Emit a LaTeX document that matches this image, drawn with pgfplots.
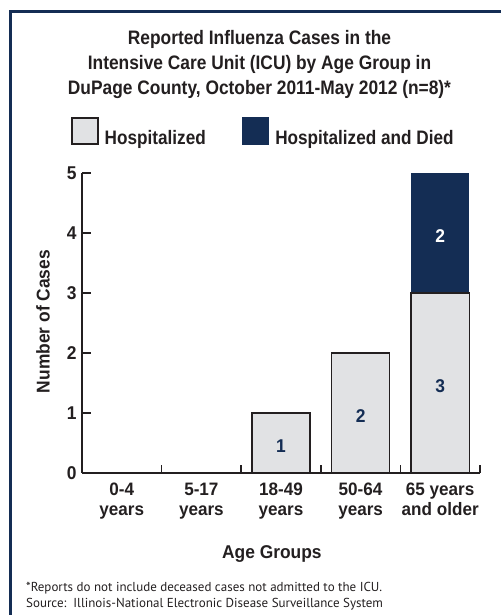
\documentclass[border=0pt]{standalone}
\usepackage{fontspec}
\usepackage{graphicx}
\usepackage{pgfplots}
\pgfplotsset{compat=1.18}
\newfontfamily\plain{Liberation Sans}
\newcommand\bsf{\plain\bfseries}
\newfontfamily\foot{PT Sans}
\newcommand\xt[2]{\scalebox{0.95}[1]{\begin{tabular}{@{}c@{}}#1\\#2\end{tabular}}}
\newcommand\cn[1]{\scalebox{0.94}[1]{#1}}
\newcommand\lgd[1]{\scalebox{0.88}[1]{#1}}
\definecolor{navy}{RGB}{20,45,84}
\definecolor{lightbar}{RGB}{225,226,228}
\definecolor{ink}{RGB}{35,31,32}
\begin{document}
\begin{tikzpicture}
\path[use as bounding box] (0,0) rectangle (501pt,615pt);
\draw[navy, line width=3.5pt] (10.3pt,0pt) -- (10.3pt,603.7pt) -- (501pt,603.7pt);
\node[anchor=north, inner sep=0pt, text=ink] at (259.5pt,588pt)
  {\scalebox{0.89}[1]{\bsf\fontsize{19.5}{25}\selectfont\begin{tabular}{@{}c@{}}Reported Influenza Cases in the\\Intensive Care Unit (ICU) by Age Group in\\DuPage County, October 2011-May 2012 (n=8)*\end{tabular}}};
\begin{axis}[
  at={(82pt,142pt)}, anchor=south west,
  scale only axis, width=398pt, height=300pt,
  xmin=-0.5, xmax=4.5, ymin=0, ymax=5,
  clip=false,
  ybar stacked, bar width=0.73,
  axis lines*=left,
  axis line style={ink, line width=1.5pt},
  tick style={ink, line width=1.5pt},
  major tick length=8.5pt, minor tick length=8pt,
  tick align=inside,
  ytick={0,1,2,3,4,5},
  yticklabel={\cn{\pgfmathprintnumber{\tick}}},
  xtick={0,1,2,3,4},
  xticklabels={{\xt{0-4}{years}},{\xt{5-17}{years}},{\xt{18-49}{years}},{\xt{50-64}{years}},{\xt{65 years}{and older}}},
  minor xtick={0.5,1.5,2.5,3.5,4.5},
  major x tick style={draw=none},
  /pgf/number format/assume math mode=true,
  ticklabel style={font=\bsf\fontsize{18}{19}\selectfont, text=ink},
  xticklabel style={anchor=north, inner sep=0pt, yshift=-9.5pt},
  yticklabel style={anchor=east, inner sep=0pt, xshift=-5.3pt, font=\bsf\fontsize{18.5}{19}\selectfont},
  ylabel={\cn{Number of Cases}},
  ylabel style={at={(axis description cs:-0.098,0.505)}, anchor=center, font=\bsf\fontsize{18.5}{20}\selectfont, text=ink},
  xlabel={\cn{Age Groups}},
  xlabel style={at={(axis description cs:0.477,-0.284)}, anchor=base, font=\bsf\fontsize{18.5}{20}\selectfont, text=ink},
  legend columns=2,
  legend style={at={(axis description cs:-0.0276,1.1383)}, anchor=west, draw=none, fill=none, inner sep=0pt,
    font=\bsf\fontsize{19.5}{22}\selectfont, text=ink,
    nodes={inner sep=0pt},
    /tikz/every odd column/.append style={column sep=6pt},
    /tikz/every even column/.append style={column sep=36pt}},
  visualization depends on={rawy \as \rawy},
  nodes near coords={\ifdim\rawy pt>0pt \cn{\pgfmathprintnumber{\rawy}}\fi},
  every node near coord/.append style={anchor=center, yshift=-3pt, font=\bsf\fontsize{18.5}{20}\selectfont},
]
\addplot[fill=lightbar, draw=ink, line width=1.5pt,
  every node near coord/.append style={text=navy},
  legend image code/.code={\draw[ink, fill=lightbar, line width=2pt] (0pt,-6pt) rectangle (25.5pt,19.5pt);}]
  coordinates {(0,0) (1,0) (2,1) (3,2) (4,3)};
\addlegendentry{\lgd{Hospitalized}}
\addplot[fill=navy, draw=none,
  every node near coord/.append style={text=white},
  legend image code/.code={\fill[navy] (-1pt,-7pt) rectangle (26.5pt,20.5pt);}]
  coordinates {(0,0) (1,0) (2,0) (3,0) (4,2)};
\addlegendentry{\lgd{Hospitalized and Died}}
\end{axis}
\node[anchor=base west, inner sep=0pt, font=\foot\fontsize{13}{14}\selectfont, text=ink] at (26pt,23.3pt)
  {*Reports do not include deceased cases not admitted to the ICU.};
\node[anchor=base west, inner sep=0pt, font=\foot\fontsize{13}{14}\selectfont, text=ink] at (26pt,7.7pt)
  {Source:\ \ Illinois-National Electronic Disease Surveillance System};
\end{tikzpicture}
\end{document}
